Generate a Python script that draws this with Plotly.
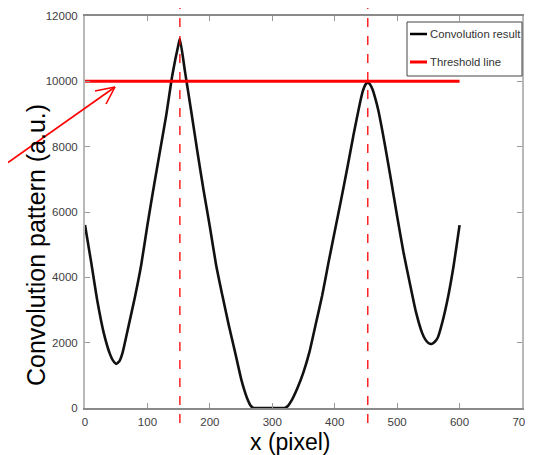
import plotly.graph_objects as go

# ---- data ----
x_pixel = [0, 10, 20, 30, 40, 45, 50, 55, 60,
           70, 80, 90, 100, 110, 120, 130, 140, 150, 152,
           160, 170, 180, 190, 200, 210, 220, 230, 240, 250,
           255, 260, 265, 270, 280, 290, 300, 310, 320, 325,
           330, 340, 350, 360, 370, 380, 390, 400, 410, 420,
           430, 440, 445, 450, 453, 456, 460, 465, 470, 480, 490,
           500, 510, 520, 530, 540, 545, 550, 555, 560, 565,
           570, 580, 590, 600]
conv_result = [5600, 4450, 3250, 2300, 1650, 1450, 1350, 1430, 1680,
               2530, 3400, 4380, 5600, 6750, 7850, 8950, 10200, 11150, 11300,
               10320, 9100, 7850, 6660, 5550, 4380, 3450, 2560, 1740, 900,
               560, 280, 80, 0, 0, 0, 0, 0, 0, 60,
               200, 600, 1100, 1750, 2600, 3450, 4450, 5400, 6350, 7330,
               8350, 9300, 9700, 9920, 9960, 9920, 9780, 9480, 9100, 8100, 7000,
               5870, 4780, 3850, 2950, 2300, 2100, 1990, 1960, 2020, 2150,
               2450, 3250, 4300, 5600]
threshold_x = [0, 600]
threshold_y = [10000, 10000]
peak_positions = [152, 453]
x_ticks = [0, 100, 200, 300, 400, 500, 600, 700]
y_ticks = [0, 2000, 4000, 6000, 8000, 10000, 12000]
legend_names = ["Convolution result", "Threshold line"]

# ---- layout geometry ----
# The page body adds an 8px offset, so the figure is sized to end at the
# window edge and every position below is given in window pixels.
OFF = 8
WIN_W, WIN_H = 533, 455
W, H = WIN_W - OFF, WIN_H - OFF
PLOT_X0, PLOT_X1 = 85, 522      # window pixels of x = 0 .. 700
PLOT_Y0, PLOT_Y1 = 16, 408      # window pixels of y = 12000 .. 0
L = PLOT_X0 - OFF
T = PLOT_Y0 - OFF
PW = PLOT_X1 - PLOT_X0
PH = PLOT_Y1 - PLOT_Y0
R = W - L - PW
B = H - T - PH


def px(xp):
    return (xp - PLOT_X0) / PW


def py(yp):
    return (PLOT_Y1 - yp) / PH


SANS = "Liberation Sans, Arial, sans-serif"

fig = go.Figure()
fig.add_trace(go.Scatter(x=x_pixel, y=conv_result, mode="lines",
                         line=dict(color="#111111", width=2.6,
                                   shape="spline", smoothing=0.5),
                         name=legend_names[0], showlegend=False))
fig.add_trace(go.Scatter(x=threshold_x, y=threshold_y, mode="lines",
                         line=dict(color="#ff0000", width=3),
                         name=legend_names[1], showlegend=False))

shapes = []
# dashed vertical lines at the peaks
for p in peak_positions:
    shapes.append(dict(type="line", xref="x", yref="paper", x0=p, x1=p,
                       y0=py(423), y1=py(OFF),
                       line=dict(color="#ff0000", width=1.3, dash="dash")))

# red arrow pointing at the threshold line
tip = (115, 87)
for (ax, ay) in [(OFF, 162.5), (95, 91), (106, 104)]:
    shapes.append(dict(type="line", xref="paper", yref="paper",
                       x0=px(ax), y0=py(ay), x1=px(tip[0]), y1=py(tip[1]),
                       line=dict(color="#ff0000", width=1.6)))

# legend box (MATLAB style)
shapes.append(dict(type="rect", xref="paper", yref="paper",
                   x0=px(407), x1=px(522), y0=py(76), y1=py(22),
                   line=dict(color="#444444", width=1), fillcolor="white",
                   layer="above"))
shapes.append(dict(type="line", xref="paper", yref="paper",
                   x0=px(410), x1=px(427), y0=py(34), y1=py(34),
                   line=dict(color="#000000", width=2.5)))
shapes.append(dict(type="line", xref="paper", yref="paper",
                   x0=px(410), x1=px(427), y0=py(62), y1=py(62),
                   line=dict(color="#ff0000", width=3)))

annotations = [
    dict(text=legend_names[0], xref="paper", yref="paper", x=px(428), y=py(34),
         xanchor="left", yanchor="middle", showarrow=False,
         font=dict(family=SANS, size=11.3, color="#333333")),
    dict(text=legend_names[1], xref="paper", yref="paper", x=px(428), y=py(62),
         xanchor="left", yanchor="middle", showarrow=False,
         font=dict(family=SANS, size=11.3, color="#333333")),
    dict(text="Convolution pattern (a.u.)", xref="paper", yref="paper",
         x=px(36), y=py(245), textangle=-90, xanchor="center", yanchor="middle",
         showarrow=False, font=dict(family=SANS, size=25, color="#000000")),
    dict(text="x (pixel)", xref="paper", yref="paper",
         x=px(290), y=py(442), xanchor="center", yanchor="middle",
         showarrow=False, font=dict(family=SANS, size=23, color="#000000")),
]

tick_font = dict(family=SANS, size=11.5, color="#404040")
fig.update_layout(
    width=W, height=H, autosize=False,
    margin=dict(l=L, r=R, t=T, b=B, pad=0),
    paper_bgcolor="white", plot_bgcolor="white",
    showlegend=False,
    shapes=shapes, annotations=annotations,
    xaxis=dict(range=[0, 700], tickvals=x_ticks,
               ticktext=[str(v) for v in x_ticks],
               ticks="inside", ticklen=5, tickcolor="#999999",
               showgrid=False, zeroline=False, automargin=False,
               showline=True, linecolor="#8a8a8a", linewidth=1.5, mirror="ticks",
               ticklabelstandoff=2, tickfont=tick_font),
    yaxis=dict(range=[0, 12000], tickvals=y_ticks,
               ticktext=[str(v) for v in y_ticks],
               ticks="inside", ticklen=5, tickcolor="#999999",
               showgrid=False, zeroline=False, automargin=False,
               showline=True, linecolor="#b8b8b8", linewidth=2, mirror="ticks",
               ticklabelstandoff=3, tickfont=tick_font),
)

fig.write_html("out.html")
